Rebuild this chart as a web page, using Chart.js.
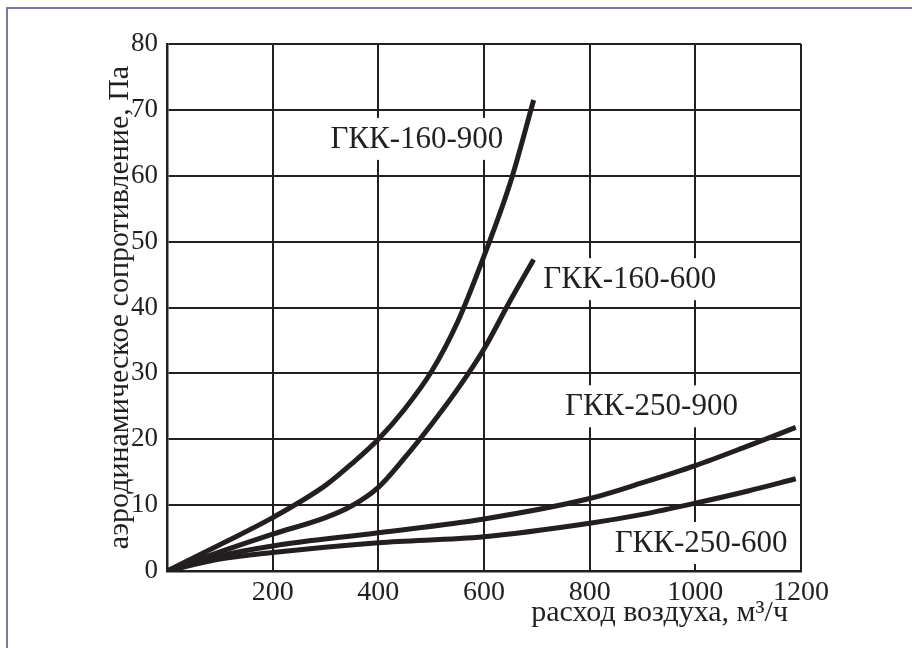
<!DOCTYPE html>
<html>
<head>
<meta charset="utf-8">
<script src="https://cdn.jsdelivr.net/npm/chart.js@4.4.1/dist/chart.umd.min.js"></script>
<style>
  html, body { margin: 0; padding: 0; background: #fff; }
  #wrap { position: relative; width: 912px; height: 648px; overflow: hidden; }
  #frame { position: absolute; left: 6px; top: 7px; right: -10px; bottom: -10px;
           border-top: 2px solid #7a7aa3; border-left: 2px solid #7a7aa3; }
  #myChart { position: absolute; left: 0; top: 0; }
</style>
</head>
<body>
<div id="wrap">
  <div id="frame"></div>
  <canvas id="myChart" width="912" height="648"></canvas>
</div>
<script>
// расход воздуха (м3/ч) и сопротивление (Па) по кривым
var flow160_900 = [0, 100, 200, 300, 350, 400, 450, 500, 550, 600, 650, 694];
var dp160_900   = [0, 4.0, 8.1, 13.0, 16.3, 20.0, 24.6, 30.2, 37.8, 47.8, 59.0, 71.5];

var flow160_600 = [0, 100, 200, 300, 350, 400, 450, 500, 550, 600, 650, 694];
var dp160_600   = [0, 2.9, 5.6, 8.1, 9.9, 12.7, 17.2, 22.2, 27.6, 33.7, 41.1, 47.3];

var flow250_900 = [0, 100, 200, 400, 600, 800, 900, 1000, 1100, 1190];
var dp250_900   = [0, 2.3, 3.8, 5.8, 7.9, 11.0, 13.4, 16.0, 19.0, 21.8];

var flow250_600 = [0, 100, 200, 400, 600, 800, 900, 1000, 1100, 1190];
var dp250_600   = [0, 1.8, 2.8, 4.3, 5.2, 7.25, 8.6, 10.3, 12.15, 14.0];

var seriesNames = ['ГКК-160-900', 'ГКК-160-600', 'ГКК-250-900', 'ГКК-250-600'];
// where each curve name sits, in axis units
var nameX = [473, 876, 917, 1011];
var nameY = [65.6, 44.3, 25.0, 4.25];

var xTicks = [0, 200, 400, 600, 800, 1000, 1200];
var yTicks = [0, 10, 20, 30, 40, 50, 60, 70, 80];

var xTitle = 'расход воздуха, м³/ч';
var yTitle = 'аэродинамическое сопротивление, Па';

var ink = '#231f20';
var serif = "'Liberation Serif', 'DejaVu Serif', serif";

function pts(xs, ys) {
    return xs.map(function (x, i) { return { x: x, y: ys[i] }; });
}

function curve(label, xs, ys) {
    return {
        label: label,
        data: pts(xs, ys),
        borderColor: ink,
        borderWidth: 5,
        pointRadius: 0,
        fill: false,
        cubicInterpolationMode: 'monotone'
    };
}

var labelsPlugin = {
    id: 'labelsPlugin',
    afterDraw: function (chart) {
        var ctx = chart.ctx;
        var xs = chart.scales.x, ys = chart.scales.y;
        var area = chart.chartArea;
        ctx.save();
        ctx.font = '31px ' + serif;
        ctx.textAlign = 'center';
        ctx.textBaseline = 'middle';
        seriesNames.forEach(function (name, i) {
            var px = xs.getPixelForValue(nameX[i]);
            var py = ys.getPixelForValue(nameY[i]);
            var w = ctx.measureText(name).width;
            ctx.fillStyle = '#fff';
            ctx.fillRect(px - w / 2 - 4, py - 21, w + 8, 42);
            ctx.fillStyle = ink;
            ctx.fillText(name, px, py + 1);
        });

        // axis titles
        ctx.font = '30px ' + serif;
        ctx.fillStyle = ink;
        ctx.textAlign = 'right';
        ctx.textBaseline = 'alphabetic';
        ctx.fillText(xTitle, area.right - 13, 621);

        ctx.translate(128, (area.top + area.bottom) / 2);
        ctx.rotate(-Math.PI / 2);
        ctx.textAlign = 'center';
        ctx.fillText(yTitle, 0, 0);
        ctx.restore();
    }
};

var ctx = document.getElementById('myChart');

var myChart = new Chart(ctx, {
    type: 'line',
    data: {
        datasets: [
            curve(seriesNames[0], flow160_900, dp160_900),
            curve(seriesNames[1], flow160_600, dp160_600),
            curve(seriesNames[2], flow250_900, dp250_900),
            curve(seriesNames[3], flow250_600, dp250_600)
        ]
    },
    options: {
        responsive: false,
        animation: false,
        layout: { padding: { left: 0, top: 44, right: 111, bottom: 0 } },
        plugins: {
            legend: { display: false },
            tooltip: { enabled: false }
        },
        scales: {
            x: {
                type: 'linear',
                min: xTicks[0],
                max: xTicks[xTicks.length - 1],
                afterFit: function (s) { s.height = 77; },
                afterBuildTicks: function (s) {
                    s.ticks = xTicks.map(function (v) { return { value: v }; });
                },
                grid: { color: ink, lineWidth: 2, drawTicks: false },
                border: { color: ink, width: 2.5 },
                ticks: {
                    color: ink,
                    padding: 5,
                    font: { family: serif, size: 28 },
                    callback: function (v) { return v === 0 ? '' : v; }
                }
            },
            y: {
                min: yTicks[0],
                max: yTicks[yTicks.length - 1],
                afterFit: function (s) { s.width = 167; },
                afterBuildTicks: function (s) {
                    s.ticks = yTicks.map(function (v) { return { value: v }; });
                },
                grid: { color: ink, lineWidth: 2, drawTicks: false },
                border: { color: ink, width: 2.5 },
                ticks: {
                    color: ink,
                    padding: 9,
                    font: { family: serif, size: 27 }
                }
            }
        }
    },
    plugins: [labelsPlugin]
});
</script>
</body>
</html>
